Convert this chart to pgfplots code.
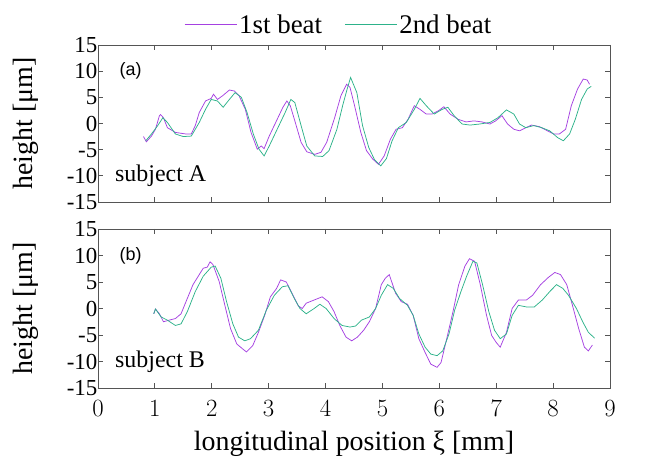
\documentclass[border=0pt]{standalone}
\usepackage{pgfplots}
\pgfplotsset{compat=1.18}
\usepackage{fontspec}
\setmainfont{Liberation Serif}
\newfontfamily\arialfont{Liberation Sans}
\definecolor{cA}{RGB}{165,65,225}
\definecolor{cB}{RGB}{45,178,138}
\definecolor{frame}{RGB}{85,85,85}
\pgfplotsset{
  myax/.style={
    scale only axis, width=512bp, height=157bp,
    xmin=0, xmax=9, ymin=-15, ymax=15,
    xtick={0,...,9}, ytick={-15,-10,-5,0,5,10,15},
    yticklabels={{-15},{-10},{-5},{0},{5},{10},{15}},
    tick align=inside, major tick length=5bp,
    axis line style={frame, line width=0.9pt},
    every tick/.style={frame, line width=0.8pt},
    tick label style={font=\fontsize{23}{25}\selectfont},
    yticklabel style={inner xsep=0.5bp, inner ysep=0pt, text depth=0pt},
    ylabel={height [μm]},
    ylabel style={font=\fontsize{28}{30}\selectfont, at={(axis description cs:-0.11,0.5)}},
    every axis plot/.append style={line width=0.75pt},
  }
}
\begin{document}
\begin{tikzpicture}
\useasboundingbox (0,0) rectangle (648bp,459bp);
\begin{axis}[myax, at={(98bp,257bp)}, anchor=south west,
  xticklabels={},
  legend columns=2,
  legend style={draw=none, fill=none, at={(0.47,1.04)}, anchor=south,
    font=\fontsize{27}{29}\selectfont, /tikz/every even column/.append style={column sep=20bp}},
  legend image code/.code={\draw[#1, line width=1.2pt] (0bp,0bp) -- (52bp,0bp);},
]
\addplot[cA] coordinates {
(0.80,-2.5)(0.85,-3.5)(0.94,-2.4)(1.01,-1.1)(1.08,1.5)(1.10,1.7)(1.15,1.1)(1.22,-0.8)(1.36,-1.7)(1.54,-2.0)(1.64,-2.0)(1.71,-0.4)(1.78,2.1)(1.89,4.3)(1.99,4.8)(2.03,5.6)(2.10,4.6)(2.19,5.3)(2.31,6.4)(2.40,6.2)(2.48,5.3)(2.59,2.7)(2.69,-1.7)(2.80,-4.9)(2.87,-4.3)(2.92,-4.8)(3.01,-2.4)(3.15,0.8)(3.25,3.1)(3.32,4.3)(3.38,3.4)(3.46,0.5)(3.57,-3.6)(3.67,-5.4)(3.81,-5.9)(3.92,-5.5)(4.02,-3.6)(4.16,1.1)(4.27,5.3)(4.37,7.5)(4.43,6.9)(4.51,3.4)(4.62,-1.7)(4.72,-5.2)(4.83,-6.8)(4.93,-7.8)(5.03,-6.2)(5.14,-3.0)(5.24,-1.1)(5.35,-0.8)(5.45,0.8)(5.56,3.4)(5.66,2.7)(5.77,1.8)(5.87,1.8)(5.98,2.4)(6.08,3.2)(6.19,1.8)(6.33,0.8)(6.47,0.3)(6.61,0.5)(6.75,0.3)(6.89,-0.1)(6.99,0.5)(7.10,1.5)(7.20,-0.1)(7.31,-1.1)(7.41,-1.4)(7.52,-0.8)(7.62,-0.3)(7.76,-0.6)(7.90,-1.4)(8.01,-2.0)(8.11,-2.0)(8.22,-1.1)(8.32,3.4)(8.43,6.6)(8.53,8.5)(8.60,8.3)(8.64,7.5)
};
\addlegendentry{1st beat}
\addplot[cB] coordinates {
(0.84,-3.3)(0.94,-2.0)(1.05,-0.4)(1.14,1.1)(1.22,0.2)(1.36,-2.0)(1.50,-2.5)(1.64,-2.4)(1.78,0.2)(1.89,2.7)(1.99,4.6)(2.10,4.3)(2.20,3.1)(2.31,4.6)(2.41,5.9)(2.52,5.0)(2.62,2.1)(2.73,-2.0)(2.83,-4.9)(2.92,-6.2)(3.01,-4.3)(3.15,-1.1)(3.29,2.1)(3.39,4.6)(3.46,4.0)(3.57,-0.4)(3.67,-4.3)(3.81,-6.2)(3.95,-6.3)(4.06,-5.2)(4.20,-1.1)(4.30,3.4)(4.38,6.6)(4.44,8.8)(4.55,5.9)(4.65,-0.4)(4.76,-4.6)(4.86,-6.9)(4.97,-8.1)(5.07,-6.7)(5.17,-3.3)(5.28,-0.8)(5.42,0.2)(5.56,2.7)(5.66,4.8)(5.77,3.4)(5.91,1.8)(6.05,2.7)(6.15,3.1)(6.26,1.5)(6.40,-0.1)(6.54,-0.3)(6.71,-0.1)(6.89,0.2)(7.03,1.1)(7.18,2.6)(7.31,1.8)(7.41,-0.1)(7.52,-0.8)(7.66,-0.4)(7.80,-0.8)(7.94,-1.4)(8.08,-2.7)(8.18,-3.3)(8.29,-2.0)(8.39,0.8)(8.50,4.6)(8.60,6.6)(8.67,7.1)
};
\addlegendentry{2nd beat}
\node[anchor=west, font=\fontsize{24}{26}\selectfont] at (axis cs:0.24,-10) {subject A};
\node[anchor=west, font=\arialfont\fontsize{18}{20}\selectfont] at (axis cs:0.32,10) {(a)};
\end{axis}
\begin{axis}[myax, at={(98bp,71bp)}, anchor=south west, height=159bp,
  xticklabel style={yshift=-9bp},
  xlabel={longitudinal position ξ [mm]},
  xlabel style={font=\fontsize{28}{30}\selectfont, at={(axis description cs:0.5,-0.25)}},
]
\addplot[cA] coordinates {
(0.98,-1.0)(1.01,-0.1)(1.08,-1.0)(1.15,-2.5)(1.25,-2.2)(1.36,-1.9)(1.46,-1.0)(1.57,1.9)(1.67,4.5)(1.78,6.4)(1.85,7.6)(1.92,7.8)(1.97,8.8)(2.02,8.3)(2.13,5.1)(2.23,0.6)(2.33,-3.8)(2.44,-6.7)(2.54,-7.6)(2.61,-8.2)(2.72,-7.0)(2.82,-4.5)(2.93,-1.3)(3.03,2.2)(3.14,3.8)(3.21,5.4)(3.31,5.0)(3.41,2.9)(3.52,0.5)(3.59,0.0)(3.66,1.0)(3.80,1.6)(3.94,2.2)(4.05,1.3)(4.15,-0.6)(4.25,-3.2)(4.36,-5.4)(4.46,-6.1)(4.56,-5.4)(4.67,-4.1)(4.77,-2.5)(4.88,0.0)(4.98,4.5)(5.05,5.7)(5.12,6.4)(5.23,2.9)(5.33,1.3)(5.44,0.8)(5.54,-1.3)(5.64,-5.7)(5.75,-8.3)(5.85,-10.5)(5.96,-11.1)(6.03,-10.2)(6.13,-5.7)(6.24,-0.6)(6.34,4.5)(6.45,8.0)(6.53,9.4)(6.62,8.9)(6.72,4.5)(6.83,-1.3)(6.92,-5.1)(7.00,-6.4)(7.07,-7.3)(7.18,-4.5)(7.28,0.0)(7.39,1.6)(7.53,1.6)(7.64,2.5)(7.78,4.5)(7.92,5.9)(8.03,6.8)(8.13,6.4)(8.24,4.5)(8.34,0.6)(8.45,-3.8)(8.55,-7.3)(8.62,-8.0)(8.69,-6.9)
};
\addplot[cB] coordinates {
(0.98,-1.0)(1.01,-0.1)(1.11,-1.6)(1.22,-2.2)(1.36,-3.2)(1.46,-2.9)(1.57,-0.6)(1.71,3.2)(1.85,6.1)(1.99,7.8)(2.06,8.0)(2.16,5.7)(2.26,1.3)(2.37,-2.9)(2.47,-5.4)(2.58,-6.1)(2.68,-5.7)(2.82,-4.1)(2.96,-0.3)(3.10,2.5)(3.24,4.1)(3.34,4.3)(3.45,1.9)(3.55,0.0)(3.66,-1.0)(3.80,0.0)(3.90,0.8)(4.01,0.0)(4.15,-1.9)(4.29,-3.2)(4.43,-3.5)(4.53,-3.3)(4.63,-2.2)(4.77,-1.6)(4.88,0.0)(4.98,2.5)(5.09,4.5)(5.19,3.8)(5.30,1.9)(5.44,0.6)(5.54,-1.3)(5.64,-4.8)(5.75,-7.3)(5.85,-8.6)(5.96,-8.9)(6.06,-8.0)(6.17,-4.8)(6.27,-0.3)(6.38,3.2)(6.48,6.1)(6.59,8.9)(6.66,8.6)(6.76,4.5)(6.87,-0.6)(6.97,-4.1)(7.07,-5.7)(7.18,-4.8)(7.28,-1.3)(7.39,0.6)(7.53,0.3)(7.67,0.3)(7.81,1.6)(7.95,3.3)(8.06,4.5)(8.17,3.8)(8.27,2.5)(8.41,0.0)(8.52,-2.5)(8.62,-4.5)(8.73,-5.6)
};
\node[anchor=west, font=\fontsize{24}{26}\selectfont] at (axis cs:0.24,-10) {subject B};
\node[anchor=west, font=\arialfont\fontsize{18}{20}\selectfont] at (axis cs:0.32,10) {(b)};
\end{axis}
\end{tikzpicture}
\end{document}
